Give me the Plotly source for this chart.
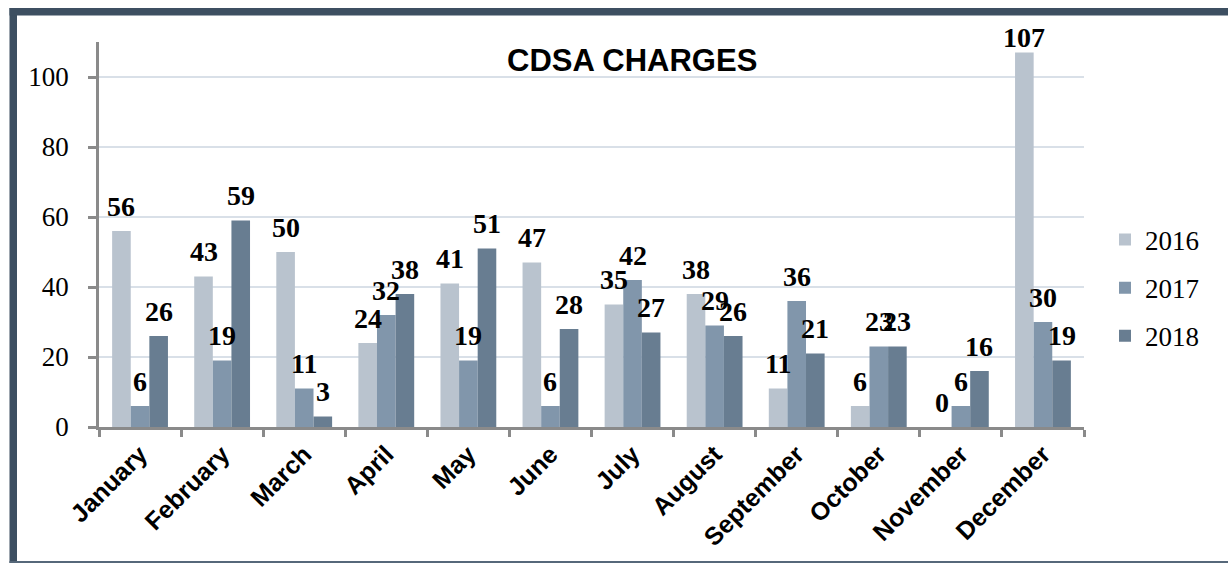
import plotly.graph_objects as go

months = ["January", "February", "March", "April", "May", "June", "July",
          "August", "September", "October", "November", "December"]
years = ["2016", "2017", "2018"]
v2016 = [56, 43, 50, 24, 41, 47, 35, 38, 11, 6, 0, 107]
v2017 = [6, 19, 11, 32, 19, 6, 42, 29, 36, 23, 6, 30]
v2018 = [26, 59, 3, 38, 51, 28, 27, 26, 21, 23, 16, 19]
series = [v2016, v2017, v2018]
y_ticks = [0, 20, 40, 60, 80, 100]

colors = ["#b9c3ce", "#8196ab", "#687d91"]

W, H = 1228, 563
ML, MR, MT, MB = 99, 144, 42, 136
PW, PH = W - ML - MR, H - MT - MB
BARGAP = 0.32
YMAX = 110
LABEL_GAP = 25        # px from bar top to label centre
LABEL_MIN_Y = 37.5    # labels kept inside the chart frame

fig = go.Figure()
for name, vals, col in zip(years, series, colors):
    fig.add_trace(go.Bar(
        x=months, y=vals, name=name, marker_color=col, marker_line_width=0,
        legendgroup=name,
    ))

# data labels above each bar
cat_px = PW / len(months)
bar_px = cat_px * (1 - BARGAP) / len(years)
annotations = []
for i, vals in enumerate(series):
    for m, v in zip(months, vals):
        top_px = MT + PH * (1 - v / YMAX)
        shift = min(LABEL_GAP, top_px - LABEL_MIN_Y)
        annotations.append(dict(
            x=m, y=v, xref="x", yref="y", text=str(v), showarrow=False,
            xshift=(i - 1) * bar_px, yshift=shift, yanchor="middle",
            font=dict(family="Liberation Serif", size=28, color="black", weight="bold"),
        ))

# title
annotations.append(dict(
    x=(632 - ML) / PW, y=(MT + PH - 60) / PH, xref="paper", yref="paper",
    text="CDSA CHARGES", showarrow=False, xanchor="center", yanchor="middle",
    font=dict(family="Liberation Sans", size=31, color="black", weight="bold"),
))

def px_x(p):
    return (p - ML) / PW

def px_y(p):
    return (MT + PH - p) / PH

border = "#3d4f61"
shapes = [
    dict(type="rect", xref="paper", yref="paper", x0=px_x(9.5), x1=px_x(17),
         y0=px_y(563), y1=px_y(8), fillcolor=border, line_width=0, layer="above"),
    dict(type="rect", xref="paper", yref="paper", x0=px_x(9.5), x1=px_x(1228),
         y0=px_y(15.5), y1=px_y(8), fillcolor=border, line_width=0, layer="above"),
    dict(type="rect", xref="paper", yref="paper", x0=px_x(9.5), x1=px_x(1228),
         y0=px_y(563), y1=px_y(561), fillcolor="#56687a", line_width=0, layer="above"),
]

fig.update_layout(
    width=W, height=H,
    margin=dict(l=ML, r=MR, t=MT, b=MB, pad=0),
    paper_bgcolor="white", plot_bgcolor="white",
    barmode="group", bargap=BARGAP, bargroupgap=0,
    showlegend=True,
    legend=dict(
        x=px_x(1105), y=px_y(288), xanchor="left", yanchor="middle",
        font=dict(family="Liberation Serif", size=27, color="black"),
        tracegroupgap=10, bgcolor="rgba(0,0,0,0)",
    ),
    annotations=annotations,
    shapes=shapes,
)
fig.update_xaxes(
    type="category", showline=True, linecolor="#8a8a8a", linewidth=2.5,
    ticks="outside", tickson="boundaries", ticklen=7, tickwidth=2.5, tickcolor="#8a8a8a",
    tickangle=-45, showgrid=False,
    tickfont=dict(family="Liberation Sans", size=25, color="black", weight="bold"),
)
fig.update_yaxes(
    range=[0, YMAX], tickvals=y_ticks, showline=True, linecolor="#8a8a8a", linewidth=2.5,
    ticks="outside", ticklen=8, tickwidth=2.5, tickcolor="#8a8a8a",
    showgrid=True, gridcolor="#d9e0e8", gridwidth=1.5, zeroline=False,
    ticklabelstandoff=14,
    tickfont=dict(family="Liberation Serif", size=27, color="black"),
)

fig.write_html(
    "out.html",
    config={"displayModeBar": False},
    post_script="document.body.style.margin='0';document.body.style.overflow='hidden';",
)
